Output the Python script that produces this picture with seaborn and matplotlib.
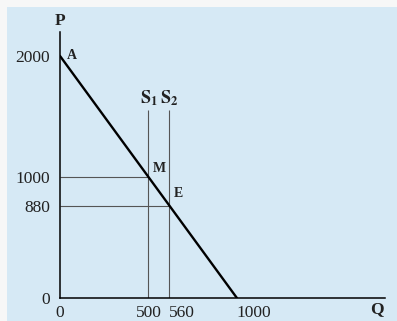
import matplotlib
matplotlib.use("Agg")
import matplotlib.pyplot as plt
import seaborn as sns
from matplotlib.patches import Rectangle

# demand curve
demand_q = [0, 1000]
demand_p = [2000, 0]
# two supply levels (vertical lines) and where they meet demand
# (the second one is drawn where the original figure puts it, off scale)
supply_q = [500, 618]
supply_top = 1554
eq_p = [1000, 764]
point_names = ["M", "E"]
supply_names = [r"$\mathbf{S_1}$", r"$\mathbf{S_2}$"]
x_ticks = [0, 500, 618, 1000]
x_labels = ["0", "500", "560", "1000"]
y_ticks = [0, 764, 1000, 2000]
y_labels = ["0", "880", "1000", "2000"]

sns.set_style("white")
plt.rcParams["font.family"] = ["Liberation Serif", "DejaVu Serif"]
plt.rcParams["mathtext.fontset"] = "stix"
plt.rcParams["text.color"] = "#222222"

bg = "#d6e9f5"
fig = plt.figure(figsize=(3.97, 3.21), dpi=100, facecolor="#f7f7f7")
fig.patches.append(Rectangle((7 / 397, 0), 1, 1 - 7 / 321, transform=fig.transFigure,
                             facecolor=bg, edgecolor="none", zorder=-5))
ax = fig.add_axes([60 / 397, 23 / 321, 325 / 397, 266 / 321])
ax.set_facecolor("none")
ax.set_xlim(0, 1837)
ax.set_ylim(0, 2198)

sns.lineplot(x=demand_q, y=demand_p, ax=ax, color="black", linewidth=1.7, zorder=3)
ax.vlines(supply_q, 0, supply_top, color="#555555", linewidth=0.8)
ax.hlines(eq_p, 0, supply_q, color="#555555", linewidth=0.8)

for s in ["top", "right"]:
    ax.spines[s].set_visible(False)
for s in ["left", "bottom"]:
    ax.spines[s].set_color("black")
    ax.spines[s].set_linewidth(1.1)

ax.set_xticks(x_ticks)
ax.set_xticklabels(x_labels, fontsize=12.5)
ax.set_yticks(y_ticks)
ax.set_yticklabels(y_labels, fontsize=12.5)
ax.tick_params(axis="y", length=0, pad=7, labelcolor="#222222")
ax.tick_params(axis="x", length=0, pad=5, labelcolor="#222222")
xl = ax.get_xticklabels()
xl[2].set_horizontalalignment("left")
xl[3].set_horizontalalignment("left")

# labels
ax.text(0, 2290, "P", ha="center", va="center", fontsize=12.5, fontweight="bold")
ax.text(1830, -95, "Q", ha="right", va="center", fontsize=12.5, fontweight="bold")
ax.annotate("A", (0, 2000), xytext=(7, 0), textcoords="offset pixels",
            ha="left", va="center", fontsize=10, fontweight="bold")
for q, p, name, dy in zip(supply_q, eq_p, point_names, [2, 6]):
    ax.annotate(name, (q, p), xytext=(4, dy), textcoords="offset pixels",
                ha="left", va="bottom", fontsize=10, fontweight="bold")
for q, name in zip(supply_q, supply_names):
    ax.annotate(name, (q, supply_top), xytext=(0, 2), textcoords="offset pixels",
                ha="center", va="bottom", fontsize=13)

fig.savefig("out.png", dpi=100, facecolor=fig.get_facecolor())
